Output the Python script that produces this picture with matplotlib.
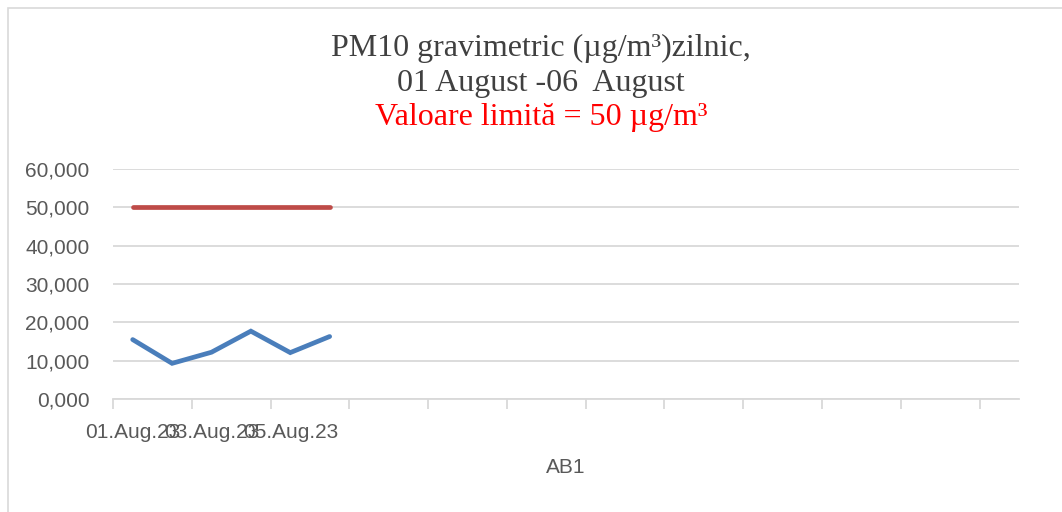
import numpy as np
import matplotlib
matplotlib.use('Agg')
import matplotlib.pyplot as plt
import matplotlib.ticker as ticker

# date
zile = ['01.Aug.23', '02.Aug.23', '03.Aug.23', '04.Aug.23', '05.Aug.23', '06.Aug.23']
pm10 = [15.5, 9.3, 12.2, 17.7, 12.1, 16.3]
limita = [50, 50, 50, 50, 50, 50]
n_categorii = 23          # axa are si categorii goale
etichete_x = ['01.Aug.23', '', '03.Aug.23', '', '05.Aug.23'] + [''] * (n_categorii - 5)
y_ticks = [0, 10, 20, 30, 40, 50, 60]

gri_text = '#595959'
gri_linii = '#d9d9d9'

fig = plt.figure(figsize=(10.62, 5.12), dpi=100)
ax = fig.add_axes([113 / 1062, 1 - 399 / 512, (1019 - 113) / 1062, (399 - 169) / 512])

x = np.arange(len(zile))
ax.plot(x, pm10, color='#4a7ebb', lw=3.4, solid_capstyle='round', solid_joinstyle='miter', zorder=3)
ax.plot(x, limita, color='#be4b48', lw=3.4, solid_capstyle='round', zorder=3)

ax.set_xlim(-0.5, n_categorii - 0.5)
ax.set_ylim(0, 60)

# gridlines
ax.set_yticks(y_ticks)
ax.yaxis.set_major_formatter(ticker.FuncFormatter(lambda v, p: f"{v:.3f}".replace('.', ',')))
ax.grid(axis='y', color=gri_linii, lw=1.3)
ax.set_axisbelow(True)

# tick marks intre categorii, etichete la mijloc
ax.set_xticks(np.arange(-0.5, n_categorii - 0.5, 2))
ax.set_xticklabels([])
ax.set_xticks(np.arange(n_categorii), minor=True)
ax.set_xticklabels(etichete_x, minor=True)
ax.tick_params(axis='x', which='major', length=7, color=gri_linii, width=1.3)
ax.tick_params(axis='x', which='minor', length=0, pad=17, labelsize=15, labelcolor=gri_text)
ax.tick_params(axis='y', length=0, pad=17, labelsize=15, labelcolor=gri_text)
for lab in ax.get_yticklabels() + ax.get_xticklabels(minor=True):
    lab.set_family('Liberation Sans')

for s in ['top', 'right', 'left']:
    ax.spines[s].set_visible(False)
ax.spines['bottom'].set_color(gri_linii)
ax.spines['bottom'].set_linewidth(1.3)

ax.set_xlabel('AB1', fontsize=15, color=gri_text, family='Liberation Sans', labelpad=12)

# titlu
fig.text(541 / 1062, 1 - 48 / 512, 'PM10 gravimetric (µg/m³)zilnic,', ha='center', va='center',
         fontsize=23, family='Liberation Serif', color='#404040')
fig.text(541 / 1062, 1 - 83 / 512, '01 August -06  August', ha='center', va='center',
         fontsize=23, family='Liberation Serif', color='#404040')
fig.text(541 / 1062, 1 - 118 / 512, 'Valoare limită = 50 µg/m³', ha='center', va='center',
         fontsize=23, family='Liberation Serif', color='#ff0000')

# chenarul graficului
fig.patches.append(plt.Rectangle((8 / 1062, -0.1), 1.2, 1.1 - 8 / 512, transform=fig.transFigure,
                                 fill=False, edgecolor=gri_linii, lw=1.2))

fig.savefig('out.png', dpi=100)
